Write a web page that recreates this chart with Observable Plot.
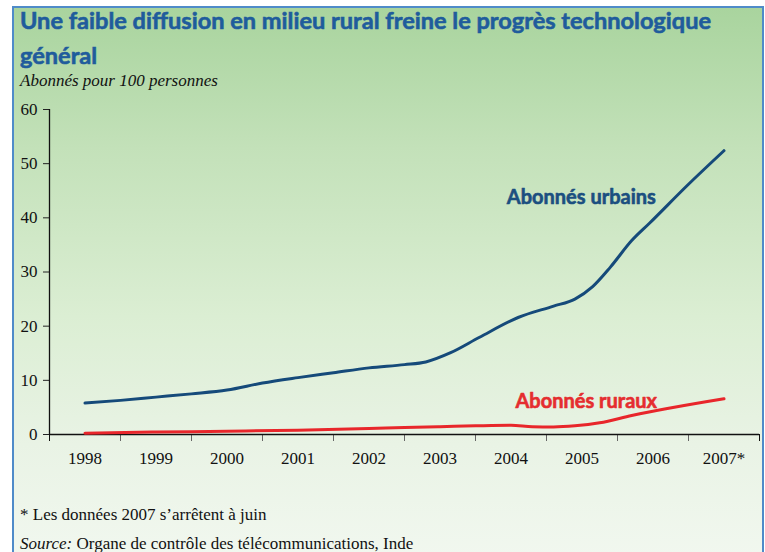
<!DOCTYPE html>
<html><head><meta charset="utf-8">
<script src="https://cdn.jsdelivr.net/npm/d3@7"></script>
<script src="https://cdn.jsdelivr.net/npm/@observablehq/plot@0.6"></script>
<style>
body{margin:0;width:765px;height:552px;overflow:hidden;background:#fff;position:relative;}
#frame{position:absolute;left:12px;top:6px;width:748px;height:560px;border:2px solid #4f8bc9;border-bottom:none;
 background:linear-gradient(to bottom,#a9d49e 0%,#c3e1b9 25%,#dbeed3 55%,#e9f3e5 78%,#f2f8f0 100%);}
.t{position:absolute;white-space:nowrap;}
.title{font-family:"Liberation Sans Narrow",Lato,sans-serif;font-weight:bold;font-size:23.5px;line-height:23px;color:#1f5c9c;transform-origin:0 50%;-webkit-text-stroke:0.6px #1f5c9c;}
.sub{font-family:"Liberation Serif",serif;font-style:italic;font-size:17px;line-height:17px;color:#111;}
.note{font-family:"Liberation Serif",serif;font-size:17px;line-height:17px;color:#111;}
#plot{position:absolute;left:14px;top:95px;}
</style></head><body>
<div id="frame"></div>
<div class="t title" id="title1" style="left:20px;top:9px">Une faible diffusion en milieu rural freine le progrès technologique</div>
<div class="t title" id="title2" style="left:20px;top:44px">général</div>
<div class="t sub" style="left:20px;top:72px">Abonnés pour 100 personnes</div>
<div id="plot"></div>
<div class="t note" style="left:20px;top:506px">* Les données 2007 s’arrêtent à juin</div>
<div class="t note" style="left:20px;top:535px"><i>Source:</i> Organe de contrôle des télécommunications, Inde</div>
<script>
// Data (decimal years, subscribers per 100 people)
const urbanT = [1998.5,1999.0,1999.5,2000.0,2000.5,2001.0,2001.5,2002.0,2002.5,2003.0,2003.3,2003.65,2004.05,2004.6,2005.1,2005.4,2005.65,2005.9,2006.2,2006.45,2007.0,2007.5];
const urbanV = [5.8,6.3,6.9,7.5,8.2,9.5,10.5,11.4,12.3,12.9,13.4,15.1,17.9,21.6,23.7,25.0,27.3,30.9,35.8,39.0,46.2,52.4];
const ruralT = [1998.5,1999.5,2000.5,2001.5,2002.5,2003.0,2003.5,2004.0,2004.5,2004.8,2005.1,2005.4,2005.75,2006.2,2007.5];
const ruralV = [0.25,0.45,0.6,0.8,1.1,1.3,1.45,1.6,1.7,1.45,1.4,1.6,2.15,3.5,6.6];
const years = [1998,1999,2000,2001,2002,2003,2004,2005,2006,2007];
const yearLabels = ["1998","1999","2000","2001","2002","2003","2004","2005","2006","2007*"];
const yTicks = [0,10,20,30,40,50,60];
const seriesLabels = [
  {text:"Abonnés urbains", t:2005.49, v:43.7, color:"#1b4f80"},
  {text:"Abonnés ruraux", t:2005.56, v:6.1, color:"#e52d2f"}
];

const urban = urbanT.map((t,i)=>({t, v:urbanV[i]}));
const rural = ruralT.map((t,i)=>({t, v:ruralV[i]}));
const bounds = [...years, years[years.length-1]+1];
const inner = bounds.slice(1,-1);
const centers = years.map(y=>y+0.5);
const labelMap = new Map(centers.map((c,i)=>[c, yearLabels[i]]));
const serif = '"Liberation Serif", serif';

const chart = Plot.plot({
  width: 749, height: 380,
  marginLeft: 35, marginRight: 4, marginTop: 14, marginBottom: 41,
  style: {background:"transparent", fontFamily: serif, fontSize:"17px", color:"#111"},
  x: {domain:[bounds[0], bounds[bounds.length-1]]},
  y: {domain:[0,60]},
  marks: [
    Plot.axisY({ticks: yTicks, tickSize: 6, tickPadding: 6, label: null, fontSize: 17, stroke:"#222"}),
    Plot.axisX({ticks: inner, tickSize: 7, tickFormat: () => "", label: null, stroke:"#666"}),
    Plot.axisX({ticks: [bounds[0], bounds[bounds.length-1]], tickSize: 7, tickFormat: () => "", label: null, stroke:"#111"}),
    Plot.axisX({ticks: centers, tickSize: 0, tickPadding: 17, tickFormat: d => labelMap.get(d), label: null, fontSize: 17}),
    Plot.ruleX([bounds[0]], {stroke:"#111", strokeWidth:1.3}),
    Plot.ruleY([0], {stroke:"#111", strokeWidth:1.3}),
    Plot.line(rural, {x:"t", y:"v", stroke:"#e8262b", strokeWidth:3, curve:"monotone-x"}),
    Plot.line(urban, {x:"t", y:"v", stroke:"#154a7a", strokeWidth:3, curve:"monotone-x"}),
    Plot.text(seriesLabels, {x:"t", y:"v", text:"text", fill:"color", stroke:"color", strokeWidth:0.6, fontSize:20, fontWeight:"bold",
      fontFamily:'Lato, "Open Sans", sans-serif', textAnchor:"middle", lineAnchor:"middle"})
  ]
});
document.getElementById("plot").appendChild(chart);

// fit the condensed title line to its width in the reference
const t1 = document.getElementById("title1"), t2 = document.getElementById("title2");
const w = t1.getBoundingClientRect().width;
const s = 691 / w;
t1.style.transform = `scaleX(${s})`;
t2.style.transform = `scaleX(${s})`;
</script>
</body></html>
